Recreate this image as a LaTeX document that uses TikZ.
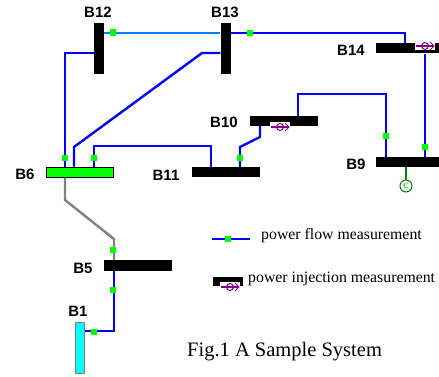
\documentclass[tikz,border=0pt]{standalone}
\usepackage{fontspec}
\setmainfont{Liberation Serif}
\newfontfamily\labelfont{Liberation Sans}
\usetikzlibrary{positioning}
\definecolor{skyline}{RGB}{0,128,255}
\definecolor{meter}{RGB}{128,0,128}
\definecolor{gengreen}{RGB}{0,128,0}
\definecolor{aqua}{RGB}{0,255,255}
\tikzset{hbus/.style = {fill = black, inner sep = 0, minimum width = 68, minimum height = 10}}
\tikzset{vbus/.style = {fill = black, inner sep = 0, minimum width = 10, minimum height = 51}}
\tikzset{buslabel/.style = {inner sep = 0, font = \labelfont\bfseries\fontsize{15}{15}\selectfont}}
\tikzset{link/.style = {blue, line width = 2.4}}
\tikzset{flowmark/.style = {fill = green, inner sep = 0, minimum size = 6.5}}
\tikzset{note/.style = {inner sep = 0, anchor = west, font = \fontsize{15.8}{15.8}\selectfont}}
\tikzset{injmeter/.pic = {
    \fill [white] (-10, -5) rectangle (10, 4);
    \draw [meter, line width = 1.6] (-9, 0) -- (9, 0);
    \draw [meter, line width = 1] (5, -4) -- (9, 0) -- (5, 4);
    \draw [meter, line width = 1] (0, 0) circle (3.5);
  }}

\begin{document}
\begin{tikzpicture}[x = 1pt, y = -1pt]
      \useasboundingbox (0, 0) rectangle (439, 377);
      % buses
      \node [vbus] (B12) at (99, 48.5) {};
      \node [vbus] (B13) at (225.5, 48.5) {};
      \node [hbus, minimum width = 63] (B14) at (407.5, 48.5) {};
      \node [hbus] (B10) at (283.5, 121) {};
      \node [hbus, minimum width = 63] (B9) at (407.5, 162) {};
      \node [hbus] (B11) at (226, 172) {};
      \node [hbus, fill = green, draw = black, line width = 1, minimum width = 67, minimum height = 10] (B6) at (79.5, 172) {};
      \node [hbus, minimum height = 11] (B5) at (137.5, 265.5) {};
      \node [vbus, fill = aqua, draw = gray, line width = 1, minimum width = 9, minimum height = 51] (B1) at (79.5, 347.5) {};
      % labels
      \node [buslabel] (l12) at (98, 12) {B12};
      \node [buslabel] (l13) at (225, 12) {B13};
      \node [buslabel] (l14) at (351, 50) {B14};
      \node [buslabel] (l10) at (224, 122.5) {B10};
      \node [buslabel] (l9) at (356, 164) {B9};
      \node [buslabel] (l11) at (166, 175) {B11};
      \node [buslabel] (l6) at (25, 174.5) {B6};
      \node [buslabel] (l5) at (83, 268) {B5};
      \node [buslabel] (l1) at (78, 311) {B1};
      % lines
      \draw [link, skyline] (B12.east |- 0, 33) -- (B13.west |- 0, 33);
      \draw [link] (B13.east |- 0, 33) -- (405, 33) -- (B14.north -| 405, 0);
      \draw [link] (B12.west |- 0, 53) -- (65, 53) -- (B6.north -| 65, 0);
      \draw [link] (B13.west |- 0, 53) -- (202, 53) -- (74, 147) -- (B6.north -| 74, 0);
      \draw [link] (B6.north -| 94, 0) -- (94, 146) -- (211, 146) -- (B11.north -| 211, 0);
      \draw [link] (B10.south -| 260, 0) -- (260, 137) -- (240, 147) -- (B11.north -| 240, 0);
      \draw [link] (B10.north -| 298, 0) -- (298, 94) -- (386, 94) -- (B9.north -| 386, 0);
      \draw [link] (B14.south -| 425, 0) -- (B9.north -| 425, 0);
      \draw [link, gray] (B6.south -| 65, 0) -- (65, 200) -- (114, 239) -- (B5.north -| 114, 0);
      \draw [link] (B5.south -| 114, 0) -- (114, 331) -- (B1.east |- 0, 331);
      % generator
      \node [circle, draw = gengreen, line width = 1, inner sep = 0, minimum size = 12, text = gengreen, font = \fontsize{8}{8}\selectfont] (gen) at (406, 186) {C};
      \draw [gengreen, line width = 2.4] (B9.south -| 406, 0) -- (gen);
      % power flow measurements
      \foreach \x/\y [count = \i] in {113/32.5, 250/33, 65/158, 94/158, 240/158, 386/136, 425/147, 113/250, 113/290, 94/332} {
        \node [flowmark] (fm\i) at (\x, \y) {};
      }
      % power injection measurements
      \pic at (425, 46) {injmeter};
      \pic at (280, 127) {injmeter};
      % legend
      \coordinate (legA) at (212, 239);
      \coordinate (legB) at (250, 239);
      \draw [link] (legA) -- (legB);
      \node [flowmark] (fmleg) at (228, 239) {};
      \node [note] (t1) at (261, 236) {power flow measurement};
      \node [hbus, minimum width = 30, minimum height = 9] (legbus) at (228, 281.5) {};
      \pic at (230, 287) {injmeter};
      \node [note] (t2) at (248, 279) {power injection measurement};
      \node [note, font = \fontsize{20.5}{20.5}\selectfont] (cap) at (187, 352) {Fig.1 A Sample System};
    \end{tikzpicture}
\end{document}
